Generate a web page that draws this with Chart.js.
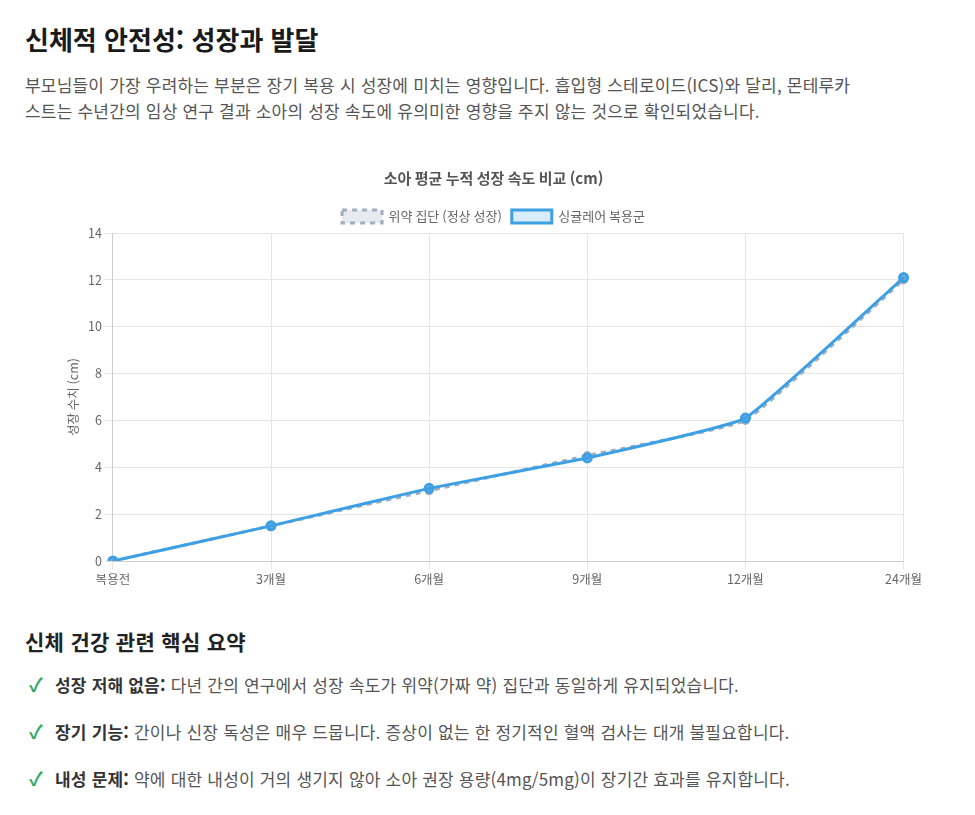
<!DOCTYPE html>
<html lang="ko">
<head>
<meta charset="utf-8">
<script src="https://cdn.jsdelivr.net/npm/chart.js@4"></script>
<style>
  html, body { margin: 0; padding: 0; background: #fff; }
  body { font-family: "Noto Sans CJK KR", "Noto Sans", sans-serif; width: 975px; height: 815px; position: relative; overflow: hidden; }
  h1 { position: absolute; left: 25px; top: 19px; margin: 0; font-size: 26px; font-weight: 700; color: #1a1a1a; line-height: 40px; }
  p.intro { position: absolute; left: 25px; top: 72px; width: 840px; margin: 0; font-size: 17px; letter-spacing: 0.2px; line-height: 26px; color: #555; }
  #chartBox { position: absolute; left: 62px; top: 159px; width: 863px; height: 431px; }
  h2 { position: absolute; left: 25px; top: 624px; margin: 0; font-size: 21px; letter-spacing: 0.3px; font-weight: 700; color: #222; line-height: 34px; }
  ul { position: absolute; left: 25px; top: 669px; margin: 0; padding: 0; list-style: none; }
  li { font-size: 17px; letter-spacing: 0.2px; line-height: 30px; color: #555; height: 47px; white-space: nowrap; }
  li .ck { display: inline-block; width: 30px; color: #2eaa6a; font-weight: 700; font-size: 19px; padding-left: 4px; box-sizing: border-box; letter-spacing: 0; }
  li b { color: #333; font-weight: 700; }
</style>
</head>
<body>
<h1>신체적 안전성: 성장과 발달</h1>
<p class="intro">부모님들이 가장 우려하는 부분은 장기 복용 시 성장에 미치는 영향입니다. 흡입형 스테로이드(ICS)와 달리, 몬테루카스트는 수년간의 임상 연구 결과 소아의 성장 속도에 유의미한 영향을 주지 않는 것으로 확인되었습니다.</p>
<div id="chartBox"><canvas id="c"></canvas></div>
<h2>신체 건강 관련 핵심 요약</h2>
<ul>
  <li><span class="ck">✓</span><b>성장 저해 없음:</b> 다년 간의 연구에서 성장 속도가 위약(가짜 약) 집단과 동일하게 유지되었습니다.</li>
  <li><span class="ck">✓</span><b>장기 기능:</b> 간이나 신장 독성은 매우 드뭅니다. 증상이 없는 한 정기적인 혈액 검사는 대개 불필요합니다.</li>
  <li><span class="ck">✓</span><b>내성 문제:</b> 약에 대한 내성이 거의 생기지 않아 소아 권장 용량(4mg/5mg)이 장기간 효과를 유지합니다.</li>
</ul>
<script>
const categories = ['복용전', '3개월', '6개월', '9개월', '12개월', '24개월'];
const placeboValues = [0, 1.5, 3.0, 4.5, 6.0, 12.0];
const singulairValues = [0, 1.5, 3.1, 4.4, 6.1, 12.1];
const seriesNames = ['위약 집단 (정상 성장)', '싱귤레어 복용군'];
const chartTitle = '소아 평균 누적 성장 속도 비교 (cm)';
const yAxisTitle = '성장 수치 (cm)';

Chart.defaults.font.family = '"Noto Sans CJK KR", "Noto Sans", sans-serif';
Chart.defaults.color = '#666';

new Chart(document.getElementById('c'), {
  type: 'line',
  data: {
    labels: categories,
    datasets: [
      {
        label: seriesNames[0],
        data: placeboValues,
        order: 1,
        borderColor: '#a0aec0',
        backgroundColor: 'rgba(160,174,192,0.25)',
        borderDash: [5, 5],
        borderWidth: 3,
        pointRadius: 3,
        pointBackgroundColor: 'rgba(160,174,192,0.5)',
        tension: 0.1,
        fill: false
      },
      {
        label: seriesNames[1],
        data: singulairValues,
        order: 0,
        borderColor: '#3ea0e4',
        backgroundColor: 'rgba(62,160,228,0.2)',
        borderWidth: 3,
        pointRadius: 4,
        pointBackgroundColor: 'rgba(62,160,228,0.5)',
        tension: 0.1,
        fill: false
      }
    ]
  },
  options: {
    responsive: true,
    maintainAspectRatio: false,
    animation: false,
    plugins: {
      title: { display: true, text: chartTitle, color: '#555', font: { size: 15, weight: 'bold' }, padding: { top: 10, bottom: 13 } },
      legend: { labels: { color: '#666', font: { size: 13 }, boxWidth: 40, boxHeight: 13, sort: (a, b) => a.datasetIndex - b.datasetIndex } },
      tooltip: { enabled: false }
    },
    scales: {
      x: {
        grid: { color: '#e6e6e6' },
        ticks: { color: '#666', font: { size: 12.5 } }
      },
      y: {
        min: 0, max: 14,
        ticks: { stepSize: 2, color: '#666', font: { size: 12.5 } },
        grid: { color: '#e6e6e6' },
        title: { display: true, text: yAxisTitle, color: '#666', font: { size: 12.5 } }
      }
    }
  }
});
</script>
</body>
</html>
